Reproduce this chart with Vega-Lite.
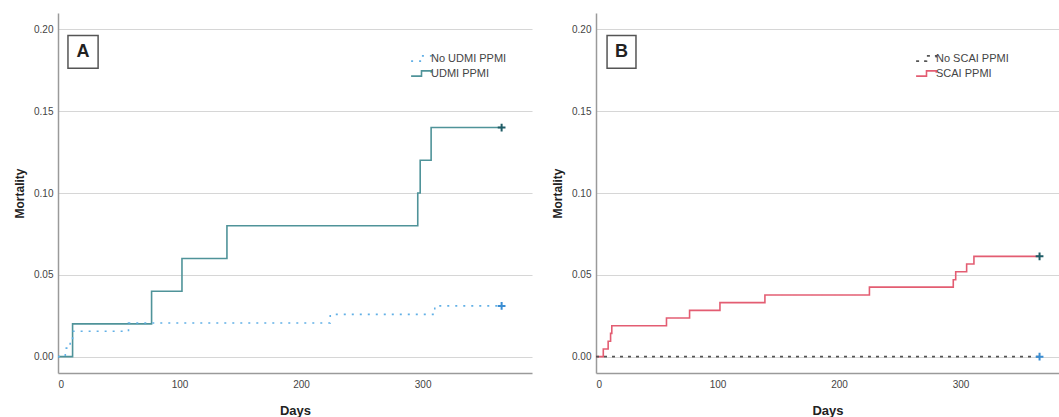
{
  "$schema": "https://vega.github.io/schema/vega-lite/v6.json",
  "padding": {"left": 13, "top": 13, "right": 0, "bottom": 0},
  "spacing": 19,
  "background": "white",
  "config": {
    "view": {"stroke": null},
    "font": "Liberation Sans",
    "axis": {
      "labelFont": "Liberation Sans", "labelFontSize": 10, "labelColor": "#444",
      "titleFont": "Liberation Sans", "titleFontSize": 13, "titleFontWeight": "bold", "titleColor": "#222",
      "domainColor": "#9a9a9a", "domainWidth": 1.5, "ticks": false,
      "gridColor": "#d6d6d6", "gridWidth": 1.2
    },
    "axisX": {"grid": false, "labelPadding": 6, "titleY": 37, "titleBaseline": "middle"},
    "axisY": {"labelPadding": 5, "titleX": -39, "titleBaseline": "middle", "titleFontSize": 12},
    "legend": {
      "orient": "none", "title": null, "padding": 0, "labelFont": "Liberation Sans", "labelFontSize": 11,
      "labelColor": "#444", "labelOffset": 2, "rowPadding": 1,
      "symbolType": "M-1.6,0.4H0V-0.4H1.5V-0.1", "symbolSize": 169, "symbolStrokeWidth": 1.6,
      "symbolFillColor": "transparent"
    }
  },
  "datasets": {
    "A": [
      {"series": "UDMI PPMI", "day": 0, "mort": 0},
      {"series": "UDMI PPMI", "day": 12, "mort": 0.02},
      {"series": "UDMI PPMI", "day": 77, "mort": 0.04},
      {"series": "UDMI PPMI", "day": 102, "mort": 0.06},
      {"series": "UDMI PPMI", "day": 139, "mort": 0.08},
      {"series": "UDMI PPMI", "day": 296, "mort": 0.10},
      {"series": "UDMI PPMI", "day": 298, "mort": 0.12},
      {"series": "UDMI PPMI", "day": 307, "mort": 0.14},
      {"series": "UDMI PPMI", "day": 365, "mort": 0.14},
      {"series": "No UDMI PPMI", "day": 0, "mort": 0},
      {"series": "No UDMI PPMI", "day": 6, "mort": 0.0052},
      {"series": "No UDMI PPMI", "day": 10, "mort": 0.0103},
      {"series": "No UDMI PPMI", "day": 12, "mort": 0.0155},
      {"series": "No UDMI PPMI", "day": 58, "mort": 0.0206},
      {"series": "No UDMI PPMI", "day": 224, "mort": 0.0258},
      {"series": "No UDMI PPMI", "day": 310, "mort": 0.031},
      {"series": "No UDMI PPMI", "day": 365, "mort": 0.031}
    ],
    "B": [
      {"series": "SCAI PPMI", "day": 0, "mort": 0},
      {"series": "SCAI PPMI", "day": 6, "mort": 0.0047},
      {"series": "SCAI PPMI", "day": 10, "mort": 0.0094},
      {"series": "SCAI PPMI", "day": 12, "mort": 0.0142},
      {"series": "SCAI PPMI", "day": 13, "mort": 0.0189},
      {"series": "SCAI PPMI", "day": 58, "mort": 0.0236},
      {"series": "SCAI PPMI", "day": 77, "mort": 0.0283},
      {"series": "SCAI PPMI", "day": 102, "mort": 0.033},
      {"series": "SCAI PPMI", "day": 139, "mort": 0.0377},
      {"series": "SCAI PPMI", "day": 225, "mort": 0.0425},
      {"series": "SCAI PPMI", "day": 294, "mort": 0.047},
      {"series": "SCAI PPMI", "day": 296, "mort": 0.0519},
      {"series": "SCAI PPMI", "day": 305, "mort": 0.0566},
      {"series": "SCAI PPMI", "day": 311, "mort": 0.0613},
      {"series": "SCAI PPMI", "day": 365, "mort": 0.0613},
      {"series": "No SCAI PPMI", "day": 0, "mort": 0},
      {"series": "No SCAI PPMI", "day": 365, "mort": 0}
    ],
    "boxes": [
      {"panel": "A", "label": "A", "x0": 8.2, "x1": 33, "y0": 0.1762, "y1": 0.1963, "cx": 20.6, "cy": 0.1862},
      {"panel": "B", "label": "B", "x0": 9.1, "x1": 32.9, "y0": 0.1762, "y1": 0.1963, "cx": 21, "cy": 0.1862}
    ]
  },
  "hconcat": [
    {
      "width": 474, "height": 360,
      "layer": [
        {
          "data": {"name": "A"},
          "mark": {"type": "line", "interpolate": "step-after", "strokeWidth": 1.6},
          "encoding": {
            "x": {"field": "day", "type": "quantitative", "title": "Days",
                  "scale": {"domain": [0, 390], "nice": false, "zero": false},
                  "axis": {"values": [0, 100, 200, 300]}},
            "y": {"field": "mort", "type": "quantitative", "title": "Mortality",
                  "scale": {"domain": [-0.01, 0.21], "nice": false, "zero": false},
                  "axis": {"values": [0, 0.05, 0.1, 0.15, 0.2], "format": ".2f"}},
            "color": {"field": "series", "type": "nominal",
                      "scale": {"domain": ["No UDMI PPMI", "UDMI PPMI"], "range": ["#62b0e6", "#4f9399"]},
                      "legend": {"legendX": 356, "legendY": 38}},
            "strokeDash": {"field": "series", "type": "nominal",
                           "scale": {"domain": ["No UDMI PPMI", "UDMI PPMI"], "range": [[2, 6], [1, 0]]},
                           "legend": {"legendX": 356, "legendY": 38}}
          }
        },
        {
          "data": {"name": "A"},
          "transform": [{"filter": "datum.day == 365"}],
          "mark": {"type": "point", "shape": "M-1,0H1M0,-1V1", "filled": false, "strokeWidth": 2, "size": 60, "opacity": 1},
          "encoding": {
            "x": {"field": "day", "type": "quantitative"},
            "y": {"field": "mort", "type": "quantitative"},
            "color": {"condition": {"test": "indexof(datum.series, 'No') == 0", "value": "#3a8dd2"}, "value": "#1f5c66"}
          }
        },
        {
          "data": {"name": "boxes"},
          "transform": [{"filter": "datum.panel == 'A'"}],
          "mark": {"type": "rect", "fill": "white", "stroke": "#555", "strokeWidth": 1.5},
          "encoding": {
            "x": {"field": "x0", "type": "quantitative"}, "x2": {"field": "x1"},
            "y": {"field": "y0", "type": "quantitative"}, "y2": {"field": "y1"}
          }
        },
        {
          "data": {"name": "boxes"},
          "transform": [{"filter": "datum.panel == 'A'"}],
          "mark": {"type": "text", "font": "Liberation Sans", "fontWeight": "bold", "fontSize": 18, "color": "#222", "align": "center", "baseline": "middle"},
          "encoding": {
            "x": {"field": "cx", "type": "quantitative"},
            "y": {"field": "cy", "type": "quantitative"},
            "text": {"field": "label"}
          }
        }
      ]
    },
    {
      "width": 463, "height": 360,
      "layer": [
        {
          "data": {"name": "B"},
          "mark": {"type": "line", "interpolate": "step-after", "strokeWidth": 1.6},
          "encoding": {
            "x": {"field": "day", "type": "quantitative", "title": "Days",
                  "scale": {"domain": [0, 381], "nice": false, "zero": false},
                  "axis": {"values": [0, 100, 200, 300]}},
            "y": {"field": "mort", "type": "quantitative", "title": "Mortality",
                  "scale": {"domain": [-0.01, 0.21], "nice": false, "zero": false},
                  "axis": {"values": [0, 0.05, 0.1, 0.15, 0.2], "format": ".2f"}},
            "color": {"field": "series", "type": "nominal",
                      "scale": {"domain": ["No SCAI PPMI", "SCAI PPMI"], "range": ["#555555", "#e35d72"]},
                      "legend": {"legendX": 323, "legendY": 38}},
            "strokeDash": {"field": "series", "type": "nominal",
                           "scale": {"domain": ["No SCAI PPMI", "SCAI PPMI"], "range": [[3, 5], [1, 0]]},
                           "legend": {"legendX": 323, "legendY": 38}}
          }
        },
        {
          "data": {"name": "B"},
          "transform": [{"filter": "datum.day == 365"}],
          "mark": {"type": "point", "shape": "M-1,0H1M0,-1V1", "filled": false, "strokeWidth": 2, "size": 60, "opacity": 1},
          "encoding": {
            "x": {"field": "day", "type": "quantitative"},
            "y": {"field": "mort", "type": "quantitative"},
            "color": {"condition": {"test": "indexof(datum.series, 'No') == 0", "value": "#3a8dd2"}, "value": "#1f5c66"}
          }
        },
        {
          "data": {"name": "boxes"},
          "transform": [{"filter": "datum.panel == 'B'"}],
          "mark": {"type": "rect", "fill": "white", "stroke": "#555", "strokeWidth": 1.5},
          "encoding": {
            "x": {"field": "x0", "type": "quantitative"}, "x2": {"field": "x1"},
            "y": {"field": "y0", "type": "quantitative"}, "y2": {"field": "y1"}
          }
        },
        {
          "data": {"name": "boxes"},
          "transform": [{"filter": "datum.panel == 'B'"}],
          "mark": {"type": "text", "font": "Liberation Sans", "fontWeight": "bold", "fontSize": 18, "color": "#222", "align": "center", "baseline": "middle"},
          "encoding": {
            "x": {"field": "cx", "type": "quantitative"},
            "y": {"field": "cy", "type": "quantitative"},
            "text": {"field": "label"}
          }
        }
      ]
    }
  ],
  "resolve": {
    "scale": {"color": "independent", "strokeDash": "independent"},
    "legend": {"color": "independent", "strokeDash": "independent"}
  }
}
